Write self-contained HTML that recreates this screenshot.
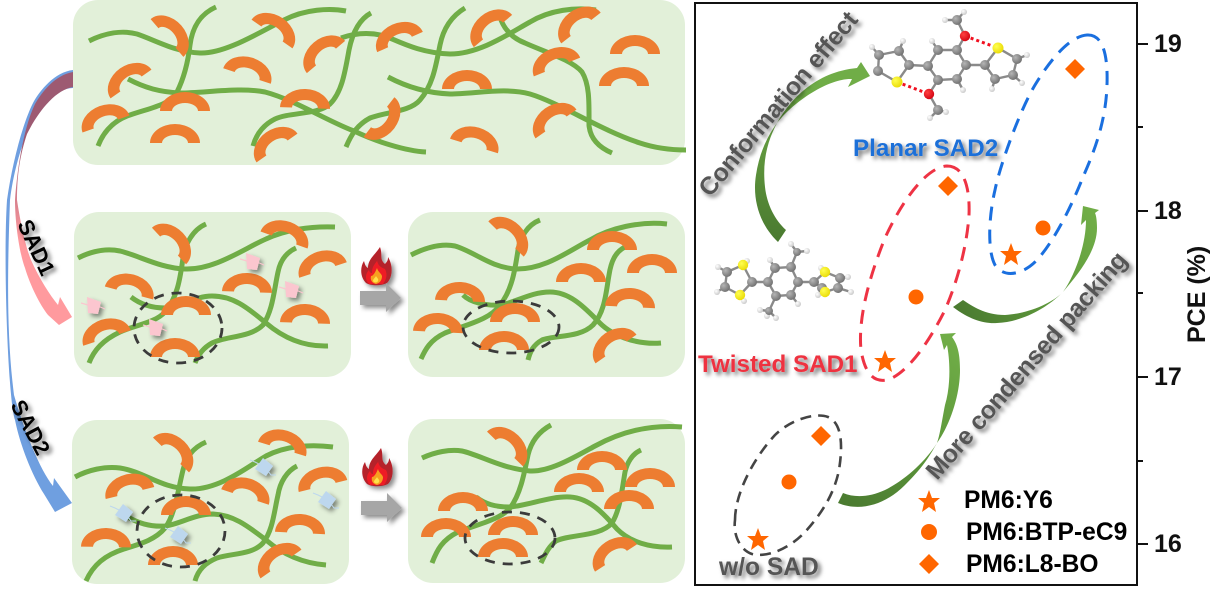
<!DOCTYPE html>
<html><head><meta charset="utf-8"><style>
html,body{margin:0;padding:0;background:#fff}
svg{display:block}
text{font-family:"Liberation Sans",sans-serif;font-weight:bold}
.gl{fill:none;stroke:#70ad47;stroke-width:5}
.dk{fill:none;stroke:#3b3b3b;stroke-width:2.8;stroke-dasharray:10 8}
.b{stroke:#8a8a8a;stroke-width:2.4}
</style></head><body>
<svg xmlns="http://www.w3.org/2000/svg" width="1211" height="589" viewBox="0 0 1211 589">
<defs>
<path id="a" fill="#ed7d31" d="M-25,0 A25,19 0 0 1 25,0 L13,0 A13,8 0 0 0 -13,0 Z"/>
<filter id="s" x="-30%" y="-30%" width="170%" height="170%"><feDropShadow dx="3" dy="3" stdDeviation="2" flood-color="#000" flood-opacity=".55"/></filter>
<filter id="s2" x="-80%" y="-80%" width="260%" height="260%"><feDropShadow dx="3" dy="3" stdDeviation="2.4" flood-color="#000" flood-opacity=".45"/></filter>
<linearGradient id="pk" gradientUnits="userSpaceOnUse" x1="0" y1="140" x2="0" y2="240"><stop offset="0" stop-color="#9d5a72"/><stop offset="1" stop-color="#ff9a9e"/></linearGradient>
<linearGradient id="g1" gradientUnits="userSpaceOnUse" x1="770" y1="240" x2="790" y2="80"><stop offset="0" stop-color="#4a7a30"/><stop offset="1" stop-color="#70ad47"/></linearGradient>
<linearGradient id="g2" gradientUnits="userSpaceOnUse" x1="840" y1="505" x2="950" y2="340"><stop offset="0" stop-color="#4a7a30"/><stop offset=".55" stop-color="#5f9a3c"/><stop offset="1" stop-color="#70ad47"/></linearGradient>
<linearGradient id="g3" gradientUnits="userSpaceOnUse" x1="955" y1="310" x2="1095" y2="220"><stop offset="0" stop-color="#4a7a30"/><stop offset=".55" stop-color="#5f9a3c"/><stop offset="1" stop-color="#70ad47"/></linearGradient>
<radialGradient id="c" cx=".35" cy=".35" r=".75"><stop offset="0" stop-color="#b5b5b5"/><stop offset="1" stop-color="#6a6a6a"/></radialGradient>
<radialGradient id="h" cx=".35" cy=".35" r=".75"><stop offset="0" stop-color="#fff"/><stop offset="1" stop-color="#c4c4c4"/></radialGradient>
<radialGradient id="y" cx=".35" cy=".35" r=".75"><stop offset="0" stop-color="#ffff50"/><stop offset="1" stop-color="#e8d800"/></radialGradient>
<radialGradient id="r" cx=".35" cy=".35" r=".75"><stop offset="0" stop-color="#ff4040"/><stop offset="1" stop-color="#d00010"/></radialGradient>
<g id="fl">
<path filter="url(#s2)" fill="#b5202a" d="M19,0 C22,8 18,12 24,17 C27,14 27,12 27,10 C32,18 32,30 26,36 C20,39 10,39 5,36 C-1,30 -1,20 3,14 C4,18 5,20 7,21 C7,12 14,8 19,0 Z"/>
<path fill="#ee1c25" d="M16,13 C17,20 22,21 24,22 C27,28 25,33 22,37 L8,37 C3,32 5,26 8,23 C9,26 10,26 11,26 C11,20 13,18 16,14 Z"/>
<path fill="#f7a020" d="M16,21 C17,25 20,26 21,29 C21,33 19,36 15,37 C11,36 9,33 10,29 C12,29 14,26 16,21 Z"/>
<path fill="#ffe24a" d="M15,29 C16,31 18,32 17,34 C16,36 13,36 12,34 C12,32 14,31 15,29 Z"/>
</g>
<path id="ar" fill="#a6a6a6" d="M0,8 L26,8 L26,0 L41,15 L26,29 L26,22 L0,22 Z"/>
<g id="pm"><path filter="url(#s2)" fill="#fbc6cf" d="M-6,-8 L8,-3 L5,9 L-5,8 Z"/><path stroke="#fbc6cf" stroke-width="1.2" d="M-12,-2 L-5,0 M5,1 L12,4"/></g>
<g id="bm"><path filter="url(#s2)" fill="#bdd7ee" d="M-1,-9 L9,-1 L2,9 L-9,2 Z"/><path stroke="#bdd7ee" stroke-width="1" fill="none" d="M-14,-7 L-9,-5 L-5,-3 M4,4 L7,8 L12,8"/></g>
</defs>

<rect width="1211" height="589" fill="#fff"/>
<!-- left arrows -->
<path fill="#6f9fe0" d="M73,70 C55,72 40,90 33,103 C22,125 12,165 7,200 C3,260 8,400 15,420 C20,445 32,475 44,494 L55,512 L72,503 L54,478 L53,486 C40,470 24,430 14,395 C7,340 7,280 10,200 C13,175 20,150 27,133 C38,110 55,88 73,88 Z"/>
<path fill="url(#pk)" d="M73,72 C55,75 42,92 35,104 C25,125 18,160 15,200 C15,225 20,255 25,268 C30,285 40,305 48,315 L59,325 L72,317 L60,297 L58,305 C50,295 40,280 31,260 C25,245 20,220 17,200 C17,175 20,155 27,134 C38,112 55,90 73,87 Z"/>

<!-- panels -->
<g fill="#e2f0d9">
<rect x="73" y="0" width="612" height="165" rx="25"/>
<rect x="74" y="212" width="277" height="165" rx="25"/>
<rect x="408" y="212" width="277" height="165" rx="25"/>
<rect x="72" y="420" width="277" height="164" rx="25"/>
<rect x="408" y="419" width="277" height="164" rx="25"/>
</g>

<!-- top panel -->
<g class="gl">
<path d="M89,41 C105,33 122,30 137,34 C155,40 175,52 200,53 C225,54 260,32 284,20 C305,9 330,8 346,11"/>
<path d="M216,7 C198,15 192,30 190,45 C188,62 184,78 177,92 C170,105 150,108 130,115 C112,121 103,133 98,146"/>
<path d="M128,79 C145,88 160,92 180,93 C205,93 240,87 265,92 C295,100 325,120 354,131 C375,141 405,151 426,152"/>
<path d="M371,13 C358,20 352,35 349,50 C345,72 342,92 330,104 C318,115 290,112 275,119 C263,125 256,135 253,146"/>
<path d="M341,38 C355,33 370,32 385,36 C400,42 420,53 450,54 C480,54 510,33 530,22 C550,10 575,7 596,10"/>
<path d="M465,8 C450,17 443,30 440,45 C436,65 433,85 420,100 C410,112 385,112 370,118 C357,125 351,135 346,147"/>
<path d="M388,77 C405,86 425,93 450,94 C475,94 505,87 530,94 C560,103 600,130 640,143 C655,148 670,150 686,150"/>
<path d="M501,20 C505,30 512,38 525,43 C545,52 572,60 582,72 C590,85 589,105 589,125 C590,138 598,147 612,153"/>
</g>
<use href="#a" transform="translate(167,38) rotate(49)"/>
<use href="#a" transform="translate(272,34) rotate(35)"/>
<use href="#a" transform="translate(326,57) rotate(-40)"/>
<use href="#a" transform="translate(400,42) rotate(-24)"/>
<use href="#a" transform="translate(493,31) rotate(-40)"/>
<use href="#a" transform="translate(581,28) rotate(-38)"/>
<use href="#a" transform="translate(557,67) rotate(-22)"/>
<use href="#a" transform="translate(131,84) rotate(-35)"/>
<use href="#a" transform="translate(106,124) rotate(-20)"/>
<use href="#a" transform="translate(247,76) rotate(18)"/>
<use href="#a" transform="translate(277,148) rotate(-35)"/>
<use href="#a" transform="translate(379,117) rotate(128)"/>
<use href="#a" transform="translate(556,124) rotate(-35)"/>
<use href="#a" transform="translate(185,111)"/>
<use href="#a" transform="translate(175,143)"/>
<use href="#a" transform="translate(305,108) rotate(2)"/>
<use href="#a" transform="translate(474,146) rotate(17)"/>
<use href="#a" transform="translate(467,89)"/>
<use href="#a" transform="translate(635,54)"/>
<use href="#a" transform="translate(624,86)"/>

<!-- panel 2 left -->
<g class="gl">
<path d="M78,258 C90,252 105,248 120,251 C140,256 160,268 185,269 C215,270 245,248 266,239 C285,230 310,226 335,227"/>
<path d="M206,224 C192,230 185,245 183,258 C180,280 177,298 165,312 C155,323 135,325 120,332 C103,340 94,350 89,363"/>
<path d="M131,297 C140,304 152,308 165,308 C180,307 195,296 212,296 C235,296 250,310 266,323 C280,335 300,347 328,346"/>
<path d="M296,248 C285,253 280,262 278,272 C274,290 273,310 263,325 C250,338 225,336 212,343 C203,348 198,355 195,363"/>
</g>
<use href="#a" transform="translate(169,246) rotate(47)"/>
<use href="#a" transform="translate(284,240) rotate(20)"/>
<use href="#a" transform="translate(323,270) rotate(-18)"/>
<use href="#a" transform="translate(129,293) rotate(15)"/>
<use href="#a" transform="translate(247,292) rotate(2)"/>
<use href="#a" transform="translate(186,315)"/>
<use href="#a" transform="translate(305,323) rotate(2)"/>
<use href="#a" transform="translate(107,338) rotate(-18)"/>
<use href="#a" transform="translate(175,357)"/>
<ellipse class="dk" cx="178" cy="328" rx="44" ry="35"/>
<use href="#pm" x="252" y="261"/><use href="#pm" x="291" y="289"/><use href="#pm" x="93" y="305"/><use href="#pm" x="155" y="327"/>

<!-- panel 2 right -->
<g class="gl">
<path d="M411,255 C425,248 440,243 455,246 C475,252 490,267 515,269 C545,270 570,250 590,240 C610,228 640,221 667,224"/>
<path d="M540,220 C527,225 520,238 518,250 C515,270 512,290 500,305 C490,320 465,325 445,333 C430,340 425,350 421,359"/>
<path d="M463,295 C470,302 485,306 500,305 C515,303 530,292 550,292 C570,292 585,308 597,320 C610,335 635,345 661,343"/>
<path d="M625,247 C615,252 611,262 609,275 C606,292 605,312 593,325 C580,338 555,335 542,340 C533,345 530,352 528,360"/>
</g>
<use href="#a" transform="translate(506,239) rotate(45)"/>
<use href="#a" transform="translate(612,250)"/>
<use href="#a" transform="translate(652,273)"/>
<use href="#a" transform="translate(581,282)"/>
<use href="#a" transform="translate(460,301) rotate(3)"/>
<use href="#a" transform="translate(630,307) rotate(3)"/>
<use href="#a" transform="translate(515,322)"/>
<use href="#a" transform="translate(438,332) rotate(3)"/>
<use href="#a" transform="translate(504,350)"/>
<use href="#a" transform="translate(616,349) rotate(-35)"/>
<ellipse class="dk" cx="511" cy="327" rx="48" ry="26"/>

<!-- panel 3 left -->
<g class="gl">
<path d="M75,477 C88,470 105,466 120,468 C145,472 160,488 190,489 C220,490 250,465 266,456 C285,446 310,444 333,447"/>
<path d="M206,442 C192,448 186,458 183,470 C178,490 175,515 165,528 C155,540 140,544 124,549 C105,555 93,565 86,581"/>
<path d="M128,517 C138,523 150,527 165,526 C180,524 195,514 213,514 C235,515 250,528 266,540 C280,552 300,563 326,565"/>
<path d="M297,466 C287,471 280,482 278,495 C274,512 273,530 263,543 C252,555 232,553 217,558 C205,563 198,570 195,581"/>
</g>
<use href="#a" transform="translate(171,455) rotate(44)"/>
<use href="#a" transform="translate(282,449) rotate(17)"/>
<use href="#a" transform="translate(323,486) rotate(-14)"/>
<use href="#a" transform="translate(130,493) rotate(-14)"/>
<use href="#a" transform="translate(245,497) rotate(18)"/>
<use href="#a" transform="translate(186,515)"/>
<use href="#a" transform="translate(300,533) rotate(3)"/>
<use href="#a" transform="translate(106,547) rotate(1)"/>
<use href="#a" transform="translate(173,565)"/>
<use href="#a" transform="translate(281,564) rotate(-35)"/>
<ellipse class="dk" cx="181" cy="531" rx="44" ry="36"/>
<use href="#bm" x="264" y="467"/><use href="#bm" x="327" y="500"/><use href="#bm" x="124" y="513"/><use href="#bm" x="179" y="535"/>

<!-- panel 3 right -->
<g class="gl">
<path d="M422,458 C435,452 450,449 462,451 C480,455 500,468 530,471 C550,472 575,457 595,446 C615,435 645,424 682,427"/>
<path d="M551,425 C538,432 531,442 528,455 C524,475 520,495 510,508 C500,520 475,525 458,532 C442,540 437,550 432,563"/>
<path d="M476,497 C485,504 495,507 510,507 C530,505 550,496 570,497 C590,498 605,515 617,529 C630,542 650,548 672,547"/>
<path d="M641,450 C632,454 627,463 625,472 C622,490 620,510 612,523 C600,537 570,534 556,541 C548,547 545,555 541,563"/>
</g>
<use href="#a" transform="translate(505,449) rotate(44)"/>
<use href="#a" transform="translate(602,470)"/>
<use href="#a" transform="translate(650,487)"/>
<use href="#a" transform="translate(579,492)"/>
<use href="#a" transform="translate(463,511)"/>
<use href="#a" transform="translate(629,509)"/>
<use href="#a" transform="translate(446,537)"/>
<use href="#a" transform="translate(513,535)"/>
<use href="#a" transform="translate(503,557)"/>
<use href="#a" transform="translate(616,558) rotate(-33)"/>
<ellipse class="dk" cx="510" cy="538" rx="45" ry="26"/>

<!-- flames -->
<use href="#fl" x="361" y="247"/>
<use href="#ar" x="360" y="283" filter="url(#s2)"/>
<use href="#fl" x="362" y="448"/>
<use href="#ar" x="361" y="493" filter="url(#s2)"/>

<g filter="url(#s)">
<text transform="translate(17,224) rotate(65)" font-size="22" fill="#000">SAD1</text>
<text transform="translate(10,405) rotate(62)" font-size="22" fill="#000">SAD2</text>
</g>

<!-- chart frame -->
<rect x="695" y="3" width="442" height="582" fill="#fff" stroke="#111" stroke-width="2"/>
<path stroke="#111" stroke-width="2" fill="none" d="M1137,44 H1148 M1137,127 H1143 M1137,211 H1148 M1137,293 H1143 M1137,377 H1148 M1137,461 H1143 M1137,544 H1148"/>
<g font-size="25" fill="#111">
<text x="1154" y="52">19</text><text x="1154" y="219">18</text><text x="1154" y="385">17</text><text x="1154" y="552">16</text>
<text transform="translate(1205,343) rotate(-90)">PCE (%)</text>
</g>

<!-- green curved arrows -->
<path fill="url(#g1)" d="M778,242 C760,225 752,200 756,175 C759,155 766,138 777,123 C790,100 815,72 857,68 L861,62 L870,76 L848,87 L852,79 C830,78 795,100 777,123 C768,140 762,160 765,187 C767,205 775,220 786,230 Z"/>
<path fill="url(#g2)" d="M838,503 C860,512 885,505 905,485 C925,465 930,455 937,443 C950,425 960,395 960,370 C960,355 958,345 952,337 L956,333 L940,334 L944,350 L947,345 C950,360 951,385 945,405 C942,420 940,435 937,443 C925,462 905,480 885,490 C870,497 855,498 843,493 Z"/>
<path fill="url(#g3)" d="M953,307 C970,320 985,324 997,323 C1020,322 1045,310 1063,292 C1080,272 1097,250 1097,228 C1097,220 1096,215 1095,213 L1099,210 L1083,206 L1081,225 L1086,220 C1086,245 1075,275 1063,292 C1050,305 1025,314 1005,315 C985,315 972,306 963,300 Z"/>

<!-- dashed loops -->
<path fill="none" stroke="#444" stroke-width="2.6" stroke-dasharray="11 7" d="M735,520 C735,495 752,460 775,435 C790,420 815,412 828,417 C842,423 843,445 839,470 C835,490 825,510 805,532 C790,548 768,558 752,554 C740,550 733,535 735,520 Z"/>
<path fill="none" stroke="#ee3344" stroke-width="3" stroke-dasharray="14 9" d="M947,166 C965,166 970,190 969,215 C967,245 958,280 945,310 C930,340 910,370 890,379 C875,384 865,375 861,350 C858,320 868,280 885,238 C900,205 925,167 947,166 Z"/>
<path fill="none" stroke="#1a6fdf" stroke-width="3" stroke-dasharray="14 9" d="M1087,35 C1103,34 1108,55 1107,85 C1106,120 1095,150 1083,177 C1072,205 1055,240 1037,260 C1025,273 1005,280 995,265 C987,250 989,215 995,190 C1000,165 1020,110 1035,85 C1050,60 1070,36 1087,35 Z"/>

<!-- data points -->
<g fill="#ff6600">
<path d="M758,528 L761,536 L769,536 L763,541 L765,550 L758,545 L751,550 L753,541 L747,536 L755,536 Z"/>
<path d="M885,350 L888,358 L896,358 L890,363 L892,372 L885,367 L878,372 L880,363 L874,358 L882,358 Z"/>
<path d="M1011,243 L1014,251 L1022,251 L1016,256 L1018,265 L1011,260 L1004,265 L1006,256 L1000,251 L1008,251 Z"/>
<path d="M929,490 L932,498 L940,498 L934,503 L936,512 L929,507 L922,512 L924,503 L918,498 L926,498 Z"/>
<circle cx="789" cy="482" r="7.5"/><circle cx="916" cy="297" r="7.5"/><circle cx="1043" cy="228" r="7.5"/><circle cx="929" cy="532" r="8"/>
<path d="M821,426 L831,436 L821,446 L811,436 Z"/>
<path d="M948,176 L958,186 L948,196 L938,186 Z"/>
<path d="M1075,59 L1085,69 L1075,79 L1065,69 Z"/>
<path d="M929,554 L939,564 L929,574 L919,564 Z"/>
</g>

<!-- labels -->
<g filter="url(#s)" font-size="25">
<text transform="translate(710,198) rotate(-50)" fill="#555" textLength="232">Conformation effect</text>
<text transform="translate(937,481) rotate(-49)" fill="#555" textLength="292">More condensed packing</text>
<text x="853" y="156" fill="#1f6fd8" font-size="24.2">Planar SAD2</text>
<text x="698" y="372" fill="#ee3340" font-size="24.2">Twisted SAD1</text>
<text x="719" y="575" fill="#555" font-size="24.6">w/o SAD</text>
</g>
<g font-size="24.6" fill="#000">
<text x="964" y="508">PM6:Y6</text>
<text x="966" y="540">PM6:BTP-eC9</text>
<text x="966" y="572">PM6:L8-BO</text>
</g>

<!-- planar molecule -->
<g class="b">
<path fill="none" d="M879,55 L899,51 L909,65 L897,82 L878,71 Z M909,65 L928,66 L938,50 L957,50 L966,65 L957,79 L938,80 L928,66 M966,65 L985,65 L998,48 L1017,59 L1013,75 L995,79 L985,65 M957,50 L965,36 L957,20 M938,80 L929,94 L938,110 M879,55 L872,47 M899,51 L903,41 M938,50 L932,41 M957,79 L963,90 M995,79 L992,89 M1013,75 L1022,83 M1017,59 L1027,55 M957,20 L945,20 M957,20 L964,12 M938,110 L930,118 M938,110 L946,112"/>
</g>
<path fill="none" stroke="#f01020" stroke-width="3" stroke-dasharray="3 3" d="M965,36 L998,48 M897,82 L929,94"/>
<g fill="url(#h)"><circle cx="945" cy="20" r="3"/><circle cx="964" cy="12" r="3"/><circle cx="872" cy="47" r="3"/><circle cx="903" cy="41" r="3"/><circle cx="932" cy="41" r="3"/><circle cx="963" cy="90" r="3"/><circle cx="992" cy="89" r="3"/><circle cx="1022" cy="83" r="3"/><circle cx="1027" cy="55" r="3"/><circle cx="930" cy="118" r="3"/><circle cx="946" cy="112" r="3"/></g>
<g fill="url(#c)"><circle cx="879" cy="55" r="5"/><circle cx="899" cy="51" r="5"/><circle cx="909" cy="65" r="5"/><circle cx="878" cy="71" r="5"/><circle cx="928" cy="66" r="5"/><circle cx="938" cy="50" r="5"/><circle cx="957" cy="50" r="5"/><circle cx="966" cy="65" r="5"/><circle cx="957" cy="79" r="5"/><circle cx="938" cy="80" r="5"/><circle cx="985" cy="65" r="5"/><circle cx="995" cy="79" r="5"/><circle cx="1013" cy="75" r="5"/><circle cx="1017" cy="59" r="5"/><circle cx="957" cy="20" r="5"/><circle cx="938" cy="110" r="5"/></g>
<circle cx="897" cy="82" r="5.5" fill="url(#y)"/><circle cx="998" cy="48" r="5.5" fill="url(#y)"/>
<circle cx="965" cy="36" r="5.2" fill="url(#r)"/><circle cx="929" cy="94" r="5.2" fill="url(#r)"/>

<!-- twisted molecule -->
<g class="b">
<path fill="none" d="M727,272 L725,287 L740,295 L752,282 L743,265 Z M752,282 L768,282 L775,268 L791,267 L798,282 L791,295 L776,296 L768,282 M798,282 L814,282 L825,272 L840,278 L838,288 L825,292 L822,288 L814,282 M791,267 L797,252 L791,244 M797,252 L807,251 M776,296 L769,311 L760,310 M769,311 L776,318 M769,311 L767,315 M727,272 L718,267 M725,287 L717,292 M775,268 L770,260 M791,295 L798,304 M840,278 L848,277 M838,288 L851,292"/>
</g>
<g fill="url(#h)"><circle cx="718" cy="267" r="3"/><circle cx="717" cy="292" r="3"/><circle cx="747" cy="261" r="3"/><circle cx="744" cy="301" r="3"/><circle cx="770" cy="260" r="3"/><circle cx="798" cy="304" r="3"/><circle cx="821" cy="268" r="3"/><circle cx="818" cy="295" r="3"/><circle cx="848" cy="277" r="3"/><circle cx="851" cy="292" r="3"/><circle cx="791" cy="244" r="3"/><circle cx="807" cy="251" r="3"/><circle cx="760" cy="310" r="3"/><circle cx="776" cy="318" r="3"/><circle cx="767" cy="316" r="3"/></g>
<g fill="url(#c)"><circle cx="727" cy="272" r="5"/><circle cx="725" cy="287" r="5"/><circle cx="752" cy="282" r="5"/><circle cx="768" cy="282" r="5"/><circle cx="775" cy="268" r="5"/><circle cx="791" cy="267" r="5"/><circle cx="798" cy="282" r="5"/><circle cx="791" cy="295" r="5"/><circle cx="776" cy="296" r="5"/><circle cx="814" cy="282" r="5"/><circle cx="840" cy="278" r="5"/><circle cx="838" cy="288" r="5"/><circle cx="822" cy="288" r="5"/><circle cx="797" cy="252" r="4"/><circle cx="769" cy="311" r="4"/></g>
<circle cx="743" cy="265" r="5.2" fill="url(#y)"/><circle cx="740" cy="295" r="5.2" fill="url(#y)"/><circle cx="825" cy="272" r="5.2" fill="url(#y)"/><circle cx="825" cy="292" r="5.2" fill="url(#y)"/>
</svg>
</body></html>
